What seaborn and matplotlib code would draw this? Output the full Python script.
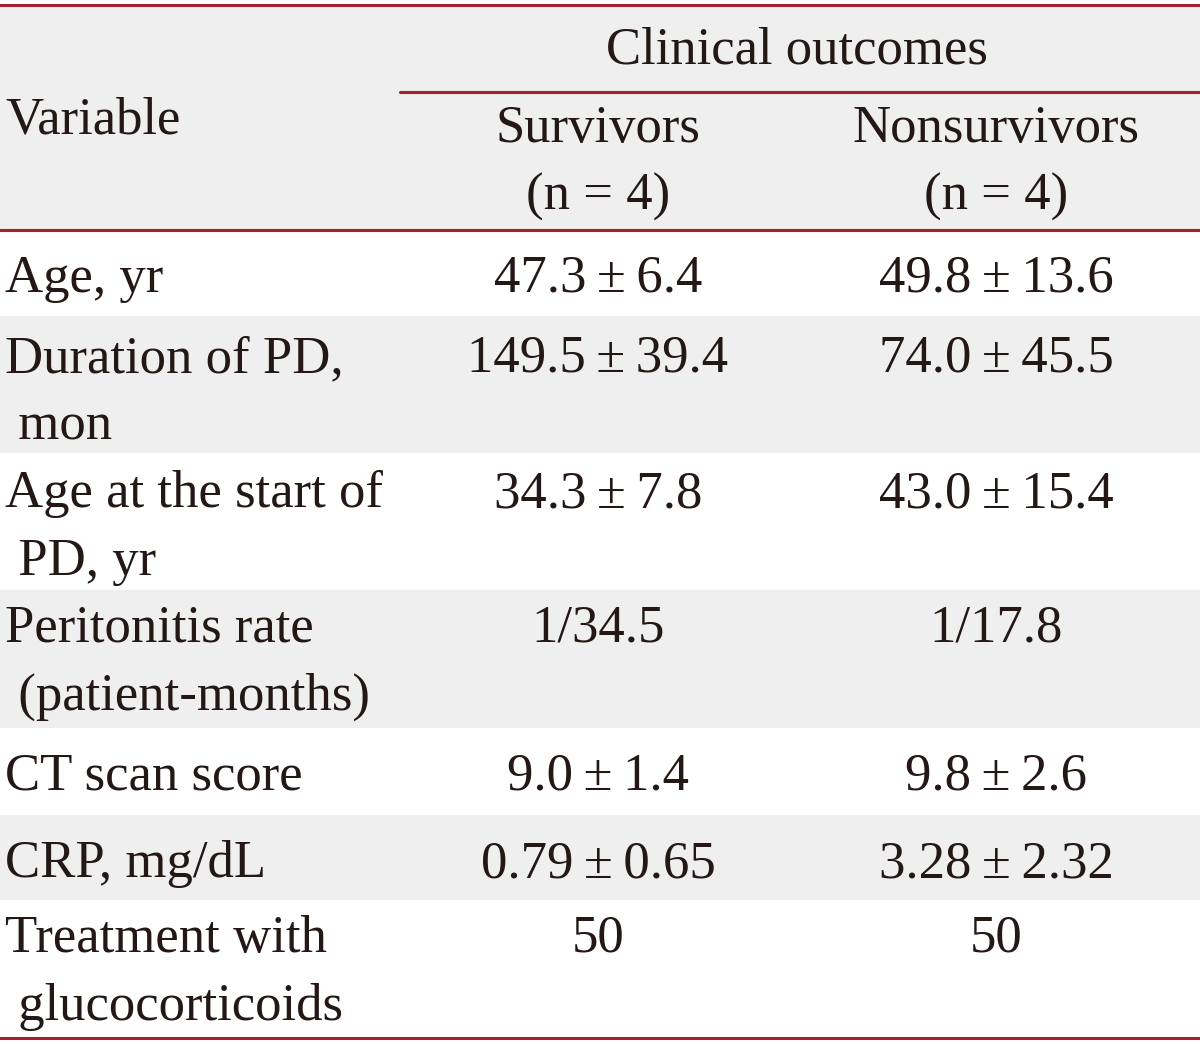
import matplotlib
matplotlib.use("Agg")
import matplotlib.pyplot as plt
import seaborn as sns

# ---- data ----
group_header = "Clinical outcomes"
col_header = "Variable"
groups = ["Survivors\n(n = 4)", "Nonsurvivors\n(n = 4)"]
variables = [
    "Age, yr",
    "Duration of PD,\n mon",
    "Age at the start of\n PD, yr",
    "Peritonitis rate\n (patient-months)",
    "CT scan score",
    "CRP, mg/dL",
    "Treatment with\n glucocorticoids",
]
survivors = ["47.3 ± 6.4", "149.5 ± 39.4", "34.3 ± 7.8", "1/34.5", "9.0 ± 1.4", "0.79 ± 0.65", "50"]
nonsurvivors = ["49.8 ± 13.6", "74.0 ± 45.5", "43.0 ± 15.4", "1/17.8", "9.8 ± 2.6", "3.28 ± 2.32", "50"]

# ---- layout (pixel coordinates) ----
W, H = 1200, 1044
red = "#a3212c"
gray = "#eeefee"
txt = "#231815"
row_bounds = [(232, 316), (316, 453), (453, 590), (590, 728), (728, 815), (815, 900), (900, 1037)]
row_center_y = [277, 357, 492, 627, 775, 862, 937]
line_step = 68
base_off = 15
col_x = [598, 996]

sns.set_theme(style="white")
plt.rcParams["font.family"] = ["Liberation Serif", "DejaVu Serif"]

fig = plt.figure(figsize=(W / 100, H / 100), dpi=100)
ax = fig.add_axes([0, 0, 1, 1])
ax.set_xlim(0, W)
ax.set_ylim(H, 0)
ax.axis("off")

fs = 38


def put(x, yc, s, ha):
    s = s.replace(" ± ", "\u2009±\u2009")
    for k, line in enumerate(s.split("\n")):
        ax.text(x, yc + base_off + k * line_step, line, ha=ha, va="baseline",
                fontsize=fs, color=txt)


# backgrounds
ax.axhspan(5, 230, color=gray, lw=0)
for i, (y0, y1) in enumerate(row_bounds):
    if i % 2 == 1:
        ax.axhspan(y0, y1, color=gray, lw=0)

# rules
ax.axhline(5, color=red, lw=2.2)
ax.axhline(230, color=red, lw=2.2)
ax.axhline(1038, color=red, lw=2.2)
ax.plot([400, 1200], [92, 92], color=red, lw=2.2)

# header text
put(797, 48, group_header, "center")
put(5, 118, col_header, "left")
for x, g in zip(col_x, groups):
    put(x, 127, g, "center")

# body
for i, var in enumerate(variables):
    y = row_center_y[i]
    put(5, y, var, "left")
    put(col_x[0], y, survivors[i], "center")
    put(col_x[1], y, nonsurvivors[i], "center")

fig.savefig("out.png", dpi=100)
